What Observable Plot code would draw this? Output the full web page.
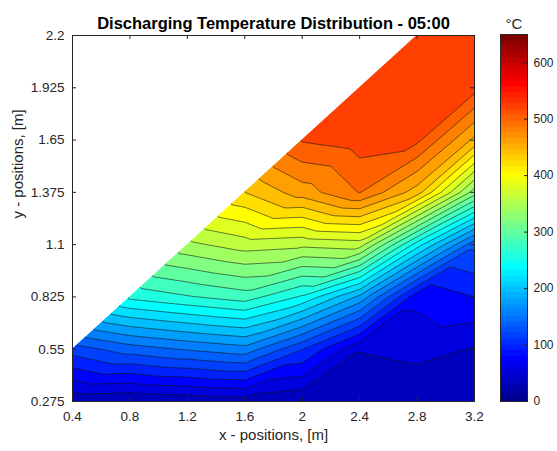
<!DOCTYPE html>
<html>
<head>
<meta charset="utf-8">
<script src="https://cdn.jsdelivr.net/npm/d3@7"></script>
<script src="https://cdn.jsdelivr.net/npm/@observablehq/plot@0.6"></script>
<style>
  html, body { margin: 0; padding: 0; background: #fff; }
  #chart { position: relative; width: 557px; height: 451px; overflow: hidden; background: #fff; }
  #chart svg { position: absolute; top: 0; }
</style>
</head>
<body>
<div id="chart"></div>
<script>
// ---------- text ----------
const title = "Discharging Temperature Distribution - 05:00";
const xLabel = "x - positions, [m]";
const yLabel = "y - positions, [m]";
const unitLabel = "°C";

// ---------- grid ----------
const xs = [0.4, 0.8, 1.2, 1.6, 2.0, 2.4, 2.8, 3.2];
const ys = [0.275, 0.55, 0.825, 1.1, 1.375, 1.65, 1.925, 2.2];

// temperature (°C) along each row of y, one value per x (null = outside the domain)
const tempY0275 = [45, 42, 46, 50, 42, 45, 48, 45];
const tempY0550 = [130, 150, 162, 172, 121, 61, 65, 59];
const tempY0825 = [null, 265, 278, 290, 257, 195, 86, 100];
const tempY1100 = [null, null, 355, 370, 365, 370, 250, 145];
const tempY1375 = [null, null, null, 440, 470, 501, 450, 330];
const tempY1650 = [null, null, null, null, 522, 530, 525, 455];
const tempY1925 = [null, null, null, null, null, 535, 532, 528];
const tempY2200 = [null, null, null, null, null, null, 536, 535];

// ---------- ticks / levels ----------
const xTicks = [0.4, 0.8, 1.2, 1.6, 2, 2.4, 2.8, 3.2];
const yTicks = [0.275, 0.55, 0.825, 1.1, 1.375, 1.65, 1.925, 2.2];
const colorTicks = [0, 100, 200, 300, 400, 500, 600];
const colorDomain = [0, 650];
const levels = [0, 20, 40, 60, 80, 100, 120, 140, 160, 180, 200, 220, 240, 260, 280, 300,
                320, 340, 360, 380, 400, 420, 440, 460, 480, 500, 520, 540, 560, 580, 600, 620, 640];

// ---------- helpers ----------
const rows = [tempY0275, tempY0550, tempY0825, tempY1100, tempY1375, tempY1650, tempY1925, tempY2200];
const nx = xs.length, ny = ys.length;

// MATLAB jet(64)
function jet(t) {
  const k = Math.max(0, Math.min(63, Math.floor(t * 64))) + 1;
  const u = q => (q < 1 || q > 47) ? 0 : q <= 16 ? q / 16 : q <= 31 ? 1 : (48 - q) / 16;
  const c = v => Math.round(255 * v);
  return `rgb(${c(u(k - 24))},${c(u(k - 8))},${c(u(k + 8))})`;
}

// fill the missing points with the column's top value (masked later anyway)
const filled = rows.map(r => r.slice());
for (let i = 0; i < nx; i++) {
  let last = null;
  for (let j = 0; j < ny; j++) {
    if (rows[j][i] == null) filled[j][i] = last; else last = rows[j][i];
  }
}

// piecewise-linear (triangulated) interpolation of the grid
function temperatureAt(x, y) {
  const fi = Math.max(0, Math.min(nx - 1, (x - xs[0]) / (xs[1] - xs[0])));
  const fj = Math.max(0, Math.min(ny - 1, (y - ys[0]) / (ys[1] - ys[0])));
  const i = Math.min(nx - 2, Math.floor(fi));
  const j = Math.min(ny - 2, Math.floor(fj));
  const u = fi - i, w = fj - j;
  const v00 = filled[j][i], v10 = filled[j][i + 1], v01 = filled[j + 1][i], v11 = filled[j + 1][i + 1];
  return u >= w
    ? v00 + u * (v10 - v00) + w * (v11 - v10)
    : v00 + w * (v01 - v00) + u * (v11 - v01);
}

// top of the valid domain in each column
const tops = xs.map((x, i) => {
  let top = ys[0];
  for (let j = 0; j < ny; j++) if (rows[j][i] != null) top = ys[j];
  return {x, top};
});

const axisColor = "#262626";
const font = "'Liberation Sans', Arial, Helvetica, sans-serif";
const W = 557, H = 451, mL = 72, mR = 83, mT = 35, mB = 50;
const frameW = W - mL - mR, frameH = H - mT - mB;
const tickLen = 4;

const main = Plot.plot({
  width: W, height: H,
  marginLeft: mL, marginRight: mR, marginTop: mT, marginBottom: mB,
  style: {fontFamily: font, background: "transparent", color: axisColor},
  x: {domain: [xs[0], xs[nx - 1]]},
  y: {domain: [ys[0], ys[ny - 1]]},
  color: {type: "linear", domain: colorDomain, interpolate: jet},
  marks: [
    Plot.contour({
      fill: temperatureAt,
      x1: xs[0], x2: xs[nx - 1], y1: ys[0], y2: ys[ny - 1],
      thresholds: levels,
      stroke: "#111", strokeWidth: 0.65, strokeOpacity: 0.9
    }),
    Plot.areaY(tops, {x: "x", y1: "top", y2: () => ys[ny - 1], fill: "white"}),
    Plot.tickX(xTicks, {x: d => d, insetTop: frameH - tickLen, stroke: axisColor}),
    Plot.tickX(xTicks, {x: d => d, insetBottom: frameH - tickLen, stroke: axisColor}),
    Plot.tickY(yTicks, {y: d => d, insetRight: frameW - tickLen, stroke: axisColor}),
    Plot.tickY(yTicks, {y: d => d, insetLeft: frameW - tickLen, stroke: axisColor}),
    Plot.frame({stroke: axisColor, strokeWidth: 1}),
    Plot.axisX({ticks: xTicks, tickFormat: d => String(d), tickSize: 0, tickPadding: 10,
                fontSize: 13.5, fill: axisColor, label: null}),
    Plot.axisY({ticks: yTicks, tickFormat: d => String(d), tickSize: 0, tickPadding: 8,
                fontSize: 13.5, fill: axisColor, label: null}),
    Plot.text([title], {text: d => d, frameAnchor: "top", dy: -18, fontSize: 16.5,
                        fontWeight: "bold", fill: "#000"}),
    Plot.text([xLabel], {text: d => d, frameAnchor: "bottom", dy: 38, fontSize: 15, fill: axisColor}),
    Plot.text([yLabel], {text: d => d, frameAnchor: "left", dx: -54, rotate: -90, fontSize: 15, fill: axisColor})
  ]
});
main.style.left = "0px";

const bar = Plot.plot({
  width: 57, height: H,
  marginLeft: 0, marginRight: 30, marginTop: mT - 1, marginBottom: mB,
  style: {fontFamily: font, background: "transparent", color: axisColor},
  x: {domain: [0, 1], axis: null},
  y: {domain: colorDomain},
  color: {type: "linear", domain: colorDomain, interpolate: jet},
  marks: [
    Plot.raster({fill: (x, y) => y, x1: 0, x2: 1, y1: colorDomain[0], y2: colorDomain[1]}),
    Plot.tickY(colorTicks, {y: d => d, insetLeft: 27 - 3, stroke: axisColor}),
    Plot.frame({stroke: axisColor, strokeWidth: 1}),
    Plot.axisY({anchor: "right", ticks: colorTicks, tickFormat: d => String(d), tickSize: 0,
                tickPadding: 6, fontSize: 12, fill: axisColor, label: null}),
    Plot.text([unitLabel], {text: d => d, frameAnchor: "top", dy: -16, fontSize: 15, fill: axisColor})
  ]
});
bar.style.left = "500px";

document.getElementById("chart").append(main, bar);
</script>
</body>
</html>
